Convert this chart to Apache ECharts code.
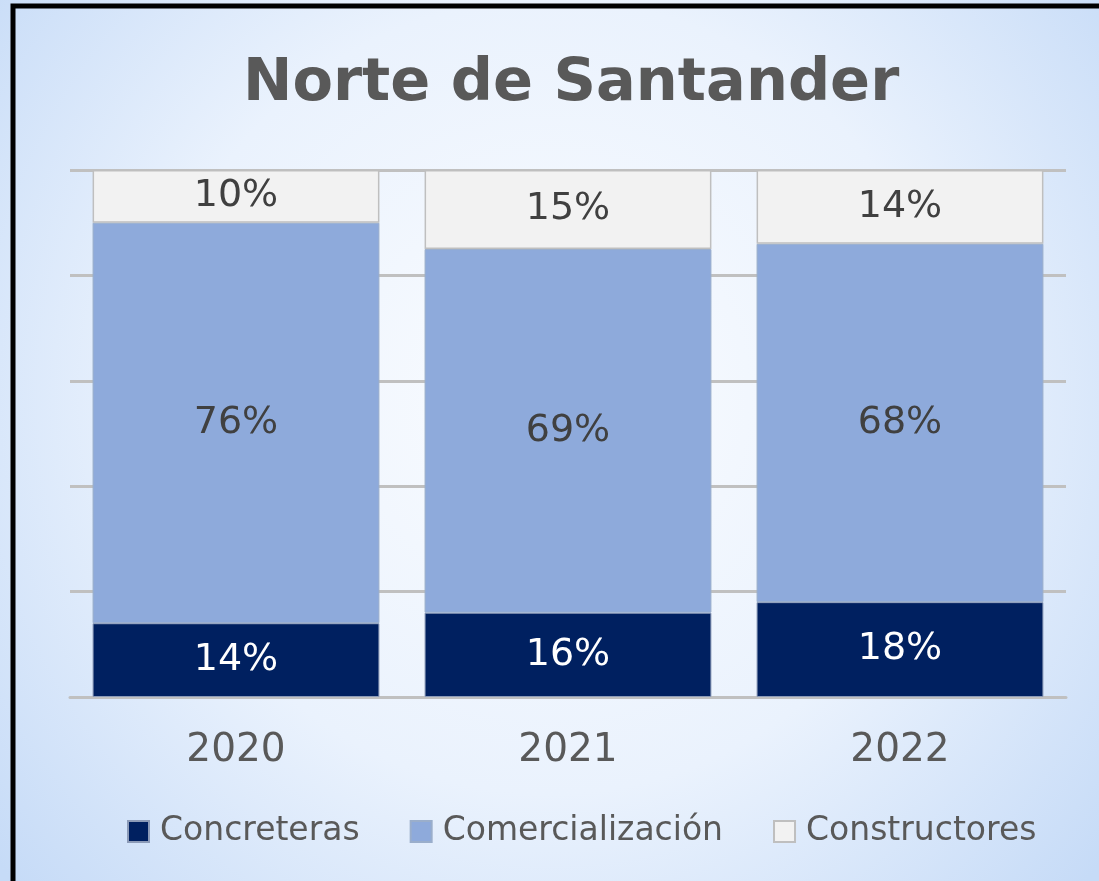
<!DOCTYPE html>
<html>
<head>
<meta charset="utf-8">
<style>
html,body{margin:0;padding:0;width:1099px;height:881px;overflow:hidden;}
#c{width:1099px;height:881px;}
</style>
<script src="https://cdn.jsdelivr.net/npm/echarts@6/dist/echarts.min.js"></script>
</head>
<body>
<div id="c"></div>
<script>
const categories = ['2020', '2021', '2022'];
const seriesNames = ['Concreteras', 'Comercialización', 'Constructores'];
const concreteras = [14, 16, 18];
const comercializacion = [76, 69, 68];
const constructores = [10, 15, 14];
const yTicks = [0, 20, 40, 60, 80, 100];

const chart = echarts.init(document.getElementById('c'));
const font = 'DejaVu Sans';
function lbl(color) {
  return {show: true, position: 'inside', color: color, fontFamily: font, fontSize: 38,
          formatter: p => p.value + '%'};
}
chart.setOption({
  backgroundColor: {
    type: 'radial', x: 0.5, y: 0.45, r: 0.82,
    colorStops: [{offset: 0, color: '#fafcff'}, {offset: 0.55, color: '#eaf2fd'}, {offset: 1, color: '#c6dbf7'}]
  },
  animation: false,
  title: {
    text: 'Norte de Santander', left: 238, top: 50,
    textStyle: {fontFamily: font, fontWeight: 'bold', fontSize: 59, color: '#595959'}
  },
  legend: {
    data: seriesNames, bottom: 28, left: 122, itemWidth: 21, itemHeight: 21, itemGap: 50,
    icon: 'rect',
    textStyle: {fontFamily: font, fontSize: 33, color: '#595959', padding: [0, 0, 0, 6]}
  },
  grid: {left: 70, right: 33, top: 170, bottom: 184},
  xAxis: {
    type: 'category', data: categories,
    axisLine: {lineStyle: {color: '#c0c0c0', width: 3}},
    axisTick: {show: false},
    axisLabel: {fontFamily: font, fontSize: 39, color: '#595959', margin: 34}
  },
  yAxis: {
    type: 'value', min: yTicks[0], max: yTicks[yTicks.length - 1], interval: 20,
    axisLabel: {show: false}, axisLine: {show: false}, axisTick: {show: false},
    splitLine: {lineStyle: {color: '#c0c0c0', width: 3}}
  },
  graphic: [{
    type: 'rect', z: 100, silent: true,
    shape: {x: 13, y: 6, width: 1300, height: 1100},
    style: {fill: 'none', stroke: '#000', lineWidth: 5}
  }],
  series: [
    {name: seriesNames[0], type: 'bar', stack: 't', data: concreteras, barWidth: '86.4%',
     itemStyle: {color: '#002060', borderColor: '#8c9bb8', borderWidth: 1}, label: lbl('#ffffff')},
    {name: seriesNames[1], type: 'bar', stack: 't', data: comercializacion, barWidth: '86.4%',
     itemStyle: {color: '#8eaadb', borderColor: '#9aaecb', borderWidth: 1}, label: lbl('#404040')},
    {name: seriesNames[2], type: 'bar', stack: 't', data: constructores, barWidth: '86.4%',
     itemStyle: {color: '#f2f2f2', borderColor: '#bfbfbf', borderWidth: 1.5}, label: lbl('#404040')}
  ]
});
</script>
</body>
</html>
